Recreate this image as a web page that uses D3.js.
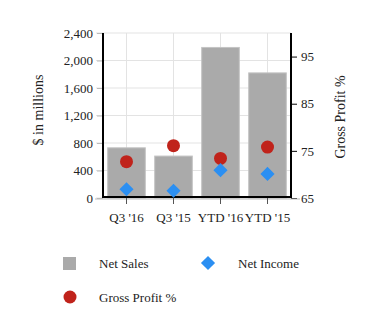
<!DOCTYPE html>
<html><head><meta charset="utf-8">
<script src="https://cdn.jsdelivr.net/npm/d3@7"></script>
<style>body{margin:0;background:#fff}</style>
</head><body><svg id="c" width="377" height="333"></svg>
<script>
const categories = ["Q3 '16", "Q3 '15", "YTD '16", "YTD '15"];
const netSales = [730, 610, 2190, 1820];
const netIncome = [128, 105, 405, 350];
const grossProfit = [72.7, 76.1, 73.4, 75.8];
const leftTicks = [0, 400, 800, 1200, 1600, 2000, 2400];
const rightTicks = [65, 75, 85, 95];

const FONT = "'Liberation Serif', 'DejaVu Serif', serif";
const svg = d3.select("#c");
const L = 103, R = 291, T = 33, B = 198;
const x = d3.scaleBand().domain(categories).range([L, R]).paddingInner(0.2).paddingOuter(0.1);
const y = d3.scaleLinear().domain([0, 2400]).range([B, T]);
const y2 = d3.scaleLinear().domain([65, 100]).range([B, T]);
const cx = c => x(c) + x.bandwidth() / 2;

// grid
svg.append("g").selectAll("line").data(leftTicks).join("line")
  .attr("x1", 96).attr("x2", R).attr("y1", d => y(d)).attr("y2", d => y(d))
  .attr("stroke", "#e3e3e3").attr("stroke-width", 1);
svg.append("g").selectAll("line").data(categories).join("line")
  .attr("x1", cx).attr("x2", cx).attr("y1", T).attr("y2", B)
  .attr("stroke", "#e3e3e3").attr("stroke-width", 1);

// bars
svg.append("g").selectAll("rect").data(categories).join("rect")
  .attr("x", d => x(d)).attr("width", x.bandwidth())
  .attr("y", (d, i) => y(netSales[i])).attr("height", (d, i) => B - y(netSales[i]))
  .attr("fill", "#aaaaaa").attr("stroke", "#c4c4c4").attr("stroke-width", 1);

function styleText(g) {
  g.attr("font-family", FONT).attr("font-size", 13);
  g.selectAll("text").attr("fill", "#222");
}

// left axis
const ga = svg.append("g").attr("transform", `translate(${L},0)`)
  .call(d3.axisLeft(y).tickValues(leftTicks).tickFormat(d3.format(",")).tickSize(6).tickPadding(4));
ga.select(".domain").remove();
ga.selectAll(".tick line").attr("stroke", "#bbb");
styleText(ga);
svg.append("line").attr("x1", L).attr("x2", L).attr("y1", T).attr("y2", B).attr("stroke", "#000").attr("stroke-width", 2);

// right axis
const gr = svg.append("g").attr("transform", `translate(${R},0)`)
  .call(d3.axisRight(y2).tickValues(rightTicks).tickSize(6).tickPadding(4));
gr.select(".domain").remove();
gr.selectAll(".tick line").attr("stroke", "#000");
styleText(gr);
svg.append("line").attr("x1", R).attr("x2", R).attr("y1", T).attr("y2", B).attr("stroke", "#000").attr("stroke-width", 2);

// bottom axis
svg.append("line").attr("x1", 95).attr("x2", 300).attr("y1", B + 1).attr("y2", B + 1).attr("stroke", "#bbb");
const gb = svg.append("g").attr("transform", `translate(0,${B})`)
  .call(d3.axisBottom(x).tickSize(6).tickPadding(9));
gb.select(".domain").remove();
gb.selectAll(".tick line").attr("stroke", "#555");
styleText(gb);
svg.append("line").attr("x1", L).attr("x2", R).attr("y1", B - 1).attr("y2", B - 1).attr("stroke", "#000").attr("stroke-width", 2);

// gross profit circles
svg.append("g").selectAll("circle").data(categories).join("circle")
  .attr("cx", cx).attr("cy", (d, i) => y2(grossProfit[i])).attr("r", 6.5).attr("fill", "#c0231b");

// net income diamonds
const diamond = d3.symbol().type(d3.symbolSquare).size(100);
svg.append("g").selectAll("path").data(categories).join("path")
  .attr("d", diamond)
  .attr("transform", (d, i) => `translate(${cx(d)},${y(netIncome[i])}) rotate(45)`)
  .attr("fill", "#2b8ff2");

function txt(xp, yp, s, size, rot) {
  const t = svg.append("text").attr("font-family", FONT).attr("font-size", size).attr("fill", "#222").text(s);
  if (rot) t.attr("transform", `translate(${xp},${yp}) rotate(-90)`).attr("text-anchor", "middle");
  else t.attr("x", xp).attr("y", yp);
  return t;
}
// axis titles
txt(43, 110, "$ in millions", 14, true);
txt(345, 117, "Gross Profit %", 14, true);

// legend
svg.append("rect").attr("x", 63).attr("y", 257).attr("width", 13).attr("height", 13).attr("fill", "#aaaaaa");
txt(99, 268, "Net Sales", 13);
svg.append("path").attr("d", diamond).attr("transform", "translate(208,263) rotate(45)").attr("fill", "#2b8ff2");
txt(238, 268, "Net Income", 13);
svg.append("circle").attr("cx", 70).attr("cy", 297).attr("r", 6.5).attr("fill", "#c0231b");
txt(99, 302, "Gross Profit %", 13);
</script></body></html>
